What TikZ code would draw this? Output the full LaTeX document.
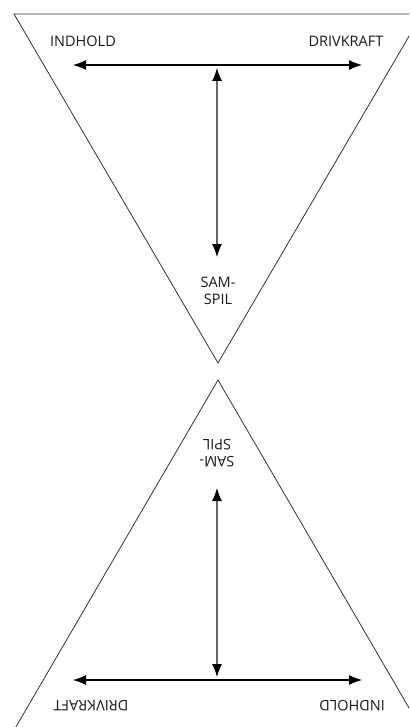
\documentclass[tikz,border=0pt]{standalone}
\usepackage{fontspec}
\setmainfont{Open Sans}
\usetikzlibrary{arrows.meta}
\tikzset{
  lbl/.style={font=\fontsize{14.5}{17}\selectfont, text=black!90, inner sep=0pt},
  tri/.style={draw=black!80, line width=0.8pt, line join=miter},
  tip/.style={Latex[length=13pt,width=10pt]},
  harrow/.style={draw=black, line width=1.1pt, {Latex[length=13pt,width=10pt]}-{Latex[length=13pt,width=10pt]}},
  varrow/.style={draw=black!60, line width=1.1pt, {Latex[length=13pt,width=10pt,fill=black,color=black]}-{Latex[length=13pt,width=10pt,fill=black,color=black]}}
}
\begin{document}
\begin{tikzpicture}[x=1pt,y=-1pt]
\useasboundingbox (0,0) rectangle (409,727);
\begin{scope}
\clip (0,0) rectangle (409,727);
% top triangle
\draw[tri] (14,14) -- (422,14) -- (218,363) -- cycle;
% bottom triangle
\draw[tri] (218,380) -- (421,728.5) -- (15,728.5) -- cycle;
\end{scope}
% top labels
\node[lbl] (tIndhold) at (83,41) {INDHOLD};
\node[lbl] (tDrivkraft) at (346,41) {DRIVKRAFT};
\node[lbl, align=center] (tSamspil) at (218,291) {SAM-\\SPIL};
% top arrows
\coordinate (tL) at (73,65);
\coordinate (tR) at (362,65);
\coordinate (tT) at (217,68);
\coordinate (tB) at (217,257);
\draw[harrow] (tL) -- (tR);
\draw[varrow] (tT) -- (tB);
% bottom labels (upside down)
\node[lbl, rotate=180] (bDrivkraft) at (91,706) {DRIVKRAFT};
\node[lbl, rotate=180] (bIndhold) at (352,706) {INDHOLD};
\node[lbl, align=center, rotate=180] (bSamspil) at (217,453) {SAM-\\SPIL};
% bottom arrows
\coordinate (bL) at (73,680);
\coordinate (bR) at (362,680);
\coordinate (bT) at (217,488);
\coordinate (bB) at (217,677);
\draw[harrow] (bL) -- (bR);
\draw[varrow] (bT) -- (bB);
\end{tikzpicture}
\end{document}
